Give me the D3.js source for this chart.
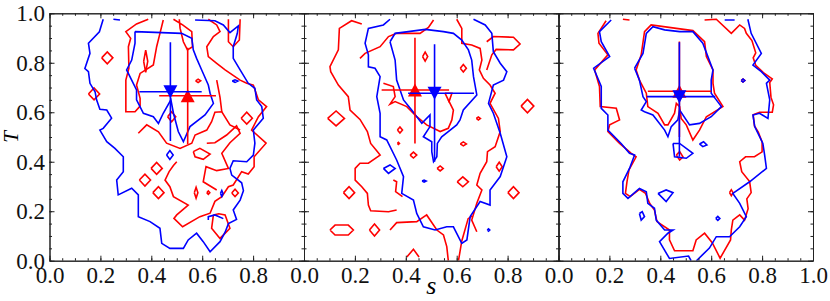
<!DOCTYPE html>
<html>
<head>
<script src="https://d3js.org/d3.v7.min.js"></script>
<style>
body { margin: 0; background: #fff; }
svg { display: block; }
.axis path, .axis line { stroke: #222; }
</style>
</head>
<body>
<script>
// contour lines, [s, T] pairs
const p1Red = [
  [[0.388,0.976],[0.342,0.957],[0.300,0.926],[0.319,0.899],[0.310,0.865],[0.312,0.778],[0.300,0.730],[0.300,0.602],[0.336,0.602],[0.356,0.625],[0.356,0.656],[0.342,0.710],[0.356,0.757],[0.408,0.791],[0.421,0.865],[0.434,0.919],[0.447,0.973]],
  [[0.349,0.515],[0.382,0.549],[0.428,0.521],[0.460,0.475],[0.513,0.454],[0.559,0.475],[0.572,0.508],[0.618,0.528],[0.637,0.562],[0.650,0.600],[0.677,0.602],[0.709,0.549],[0.749,0.528]],
  [[0.500,0.400],[0.487,0.385],[0.470,0.360],[0.454,0.326],[0.473,0.299],[0.487,0.259],[0.545,0.225],[0.500,0.185],[0.489,0.171],[0.523,0.137],[0.591,0.178],[0.631,0.192],[0.650,0.240],[0.677,0.259],[0.703,0.299],[0.722,0.306],[0.755,0.360],[0.781,0.350],[0.804,0.380],[0.804,0.420],[0.851,0.475],[0.794,0.528],[0.821,0.582],[0.853,0.623],[0.821,0.650],[0.801,0.710],[0.775,0.717],[0.749,0.730],[0.690,0.771],[0.657,0.798],[0.624,0.825],[0.618,0.865],[0.644,0.906],[0.670,0.926],[0.657,0.953],[0.624,0.976]],
  [[0.618,0.475],[0.650,0.477],[0.696,0.508],[0.735,0.545],[0.749,0.515],[0.709,0.477],[0.677,0.434],[0.703,0.373],[0.657,0.364],[0.615,0.380],[0.604,0.319],[0.657,0.286]],
  [[0.703,0.976],[0.703,0.885],[0.722,0.865],[0.746,0.892],[0.749,0.976]],
  [[0.487,0.976],[0.523,0.953],[0.559,0.926],[0.562,0.865],[0.542,0.852],[0.526,0.885],[0.513,0.940],[0.510,0.976]],
  [[0.644,0.185],[0.637,0.131],[0.670,0.090],[0.709,0.131],[0.690,0.185],[0.665,0.190],[0.644,0.185]],
  [[0.657,0.730],[0.670,0.660],[0.677,0.602]],
  [[0.565,0.441],[0.591,0.454],[0.631,0.431],[0.604,0.410],[0.572,0.420],[0.565,0.441]]
]
// small closed islands: [s, T, half width, half height]
const p1RedIslands = [
  [0.227,0.820,0.022,0.024],[0.175,0.674,0.022,0.024],[0.421,0.373,0.022,0.024],
  [0.375,0.326,0.022,0.024],[0.428,0.275,0.022,0.024],[0.576,0.275,0.007,0.022],
  [0.624,0.275,0.006,0.007],[0.729,0.274,0.013,0.015],[0.775,0.576,0.022,0.024],
  [0.584,0.727,0.010,0.007],[0.480,0.582,0.016,0.020],[0.378,0.806,0.008,0.045]
]
const p1Blue = [
  [[0.211,0.976],[0.196,0.925],[0.153,0.879],[0.159,0.838],[0.139,0.777],[0.153,0.764],[0.159,0.717],[0.179,0.683],[0.185,0.650],[0.198,0.612],[0.225,0.609],[0.244,0.576],[0.211,0.535],[0.198,0.528],[0.225,0.481],[0.257,0.454],[0.290,0.420],[0.290,0.360],[0.264,0.326],[0.270,0.266],[0.323,0.293],[0.349,0.266],[0.349,0.178],[0.395,0.158],[0.434,0.131],[0.441,0.070],[0.473,0.050],[0.526,0.050],[0.545,0.084],[0.578,0.111],[0.604,0.077],[0.631,0.036],[0.670,0.077],[0.690,0.115],[0.703,0.150],[0.735,0.167],[0.722,0.205],[0.749,0.245],[0.762,0.283],[0.755,0.315],[0.716,0.346],[0.709,0.373],[0.722,0.404],[0.775,0.400],[0.801,0.427],[0.807,0.475],[0.801,0.528],[0.840,0.576],[0.834,0.623],[0.814,0.650],[0.807,0.697],[0.781,0.717],[0.749,0.771],[0.722,0.818],[0.722,0.865],[0.738,0.919],[0.742,0.949],[0.709,0.922],[0.683,0.953],[0.650,0.970],[0.572,0.973]],
  [[0.336,0.926],[0.519,0.919],[0.559,0.899],[0.565,0.852],[0.578,0.818],[0.598,0.771],[0.624,0.710],[0.631,0.677],[0.644,0.636],[0.611,0.589],[0.552,0.542],[0.526,0.481],[0.506,0.522],[0.487,0.596],[0.477,0.650],[0.447,0.596],[0.428,0.555],[0.408,0.582],[0.369,0.596],[0.342,0.650],[0.342,0.690],[0.303,0.771],[0.323,0.811],[0.336,0.879],[0.336,0.926]],
  [[0.251,0.976],[0.277,0.973]],
  [[0.624,0.165],[0.624,0.178],[0.650,0.185],[0.683,0.170]]
]
const p1BlueIslands = [[0.473,0.427,0.013,0.018],[0.729,0.726,0.011,0.005],[0.677,0.272,0.005,0.012]]

const p2Red = [
  [[0.227,0.957],[0.187,0.970],[0.139,0.939],[0.135,0.852],[0.102,0.784],[0.105,0.764],[0.135,0.710],[0.174,0.663],[0.181,0.609],[0.220,0.571],[0.249,0.522],[0.262,0.474],[0.288,0.441],[0.299,0.427],[0.253,0.394],[0.220,0.394],[0.201,0.373],[0.201,0.326],[0.227,0.299],[0.249,0.272],[0.253,0.225],[0.262,0.202],[0.332,0.198],[0.364,0.205]],
  [[0.220,0.818],[0.240,0.838],[0.299,0.865],[0.332,0.906],[0.364,0.919],[0.410,0.919],[0.456,0.919],[0.489,0.943],[0.509,0.973]],
  [[0.312,0.717],[0.351,0.704],[0.358,0.663],[0.338,0.633],[0.358,0.643],[0.404,0.623],[0.443,0.582],[0.482,0.549],[0.535,0.522],[0.567,0.535],[0.581,0.569],[0.587,0.609],[0.567,0.650]],
  [[0.554,0.677],[0.581,0.677],[0.570,0.643],[0.554,0.677]],
  [[0.600,0.976],[0.620,0.939],[0.620,0.879],[0.659,0.872],[0.692,0.858],[0.699,0.811],[0.689,0.771],[0.705,0.737],[0.731,0.710],[0.751,0.677],[0.731,0.636],[0.764,0.575],[0.771,0.522],[0.751,0.461],[0.721,0.441],[0.718,0.400],[0.692,0.353],[0.679,0.306],[0.699,0.286],[0.679,0.232],[0.659,0.164],[0.679,0.117]],
  [[0.718,0.885],[0.744,0.906],[0.823,0.903],[0.849,0.876],[0.823,0.852],[0.755,0.854],[0.738,0.832],[0.718,0.771]],
  [[0.338,0.124],[0.364,0.154],[0.443,0.158],[0.482,0.185],[0.522,0.124],[0.548,0.104],[0.561,0.057],[0.567,0.000]],
  [[0.404,0.015],[0.430,0.046],[0.452,0.015]],
  [[0.607,0.000],[0.620,0.080],[0.645,0.170],[0.660,0.180]],
  [[0.102,0.124],[0.122,0.144],[0.174,0.144],[0.194,0.124],[0.174,0.104],[0.122,0.104],[0.102,0.124]],
  [[0.351,0.326],[0.364,0.319],[0.360,0.279],[0.387,0.259]]
]
const p2RedIslands = [
  [0.126,0.575,0.033,0.030],[0.878,0.625,0.025,0.027],[0.177,0.275,0.022,0.024],
  [0.277,0.124,0.020,0.024],[0.624,0.319,0.022,0.020],[0.823,0.275,0.022,0.024],
  [0.767,0.380,0.012,0.018],[0.535,0.373,0.012,0.010],[0.430,0.427,0.013,0.012],
  [0.476,0.825,0.010,0.018],[0.626,0.778,0.012,0.015],[0.377,0.528,0.010,0.012],
  [0.371,0.474,0.004,0.004],[0.626,0.472,0.012,0.008],[0.685,0.575,0.008,0.006]
]
const p2Blue = [
  [[0.338,0.976],[0.312,0.953],[0.253,0.939],[0.240,0.879],[0.253,0.832],[0.253,0.784],[0.279,0.778],[0.299,0.744],[0.286,0.663],[0.299,0.596],[0.299,0.501],[0.325,0.488],[0.364,0.407],[0.391,0.340],[0.384,0.272],[0.430,0.245],[0.443,0.191],[0.469,0.137],[0.515,0.124],[0.561,0.137],[0.587,0.137],[0.620,0.070],[0.640,0.084],[0.653,0.178],[0.692,0.239],[0.731,0.225],[0.731,0.286],[0.771,0.340],[0.797,0.420],[0.771,0.515],[0.744,0.596],[0.725,0.636],[0.744,0.710],[0.784,0.730],[0.797,0.764],[0.771,0.798],[0.744,0.845],[0.738,0.919],[0.712,0.953],[0.666,0.976]],
  [[0.338,0.885],[0.358,0.919],[0.410,0.926],[0.476,0.935],[0.548,0.926],[0.587,0.919],[0.620,0.892],[0.646,0.852],[0.659,0.811],[0.666,0.744],[0.679,0.670],[0.626,0.609],[0.613,0.569],[0.600,0.549],[0.567,0.522],[0.541,0.501],[0.524,0.474],[0.522,0.420],[0.509,0.400],[0.502,0.441],[0.502,0.481],[0.469,0.501],[0.495,0.542],[0.495,0.589],[0.463,0.555],[0.423,0.609],[0.391,0.650],[0.364,0.730],[0.358,0.811],[0.338,0.885]],
  [[0.312,0.373],[0.338,0.387],[0.358,0.373],[0.332,0.353],[0.312,0.373]]
]
const p2BlueIslands = [[0.472,0.322,0.008,0.004],[0.725,0.124,0.005,0.005]]

const p3Red = [
  [[0.187,0.970],[0.155,0.919],[0.159,0.879],[0.194,0.832],[0.142,0.771],[0.161,0.704],[0.164,0.623],[0.227,0.616],[0.240,0.569],[0.201,0.549],[0.194,0.522],[0.240,0.474],[0.286,0.434],[0.305,0.420],[0.277,0.367],[0.269,0.319],[0.263,0.272],[0.282,0.259],[0.318,0.288],[0.342,0.272],[0.358,0.232],[0.377,0.205],[0.387,0.158],[0.436,0.124],[0.436,0.084],[0.456,0.040],[0.528,0.040],[0.541,0.084],[0.574,0.111],[0.604,0.073],[0.635,0.010],[0.676,0.084],[0.679,0.124],[0.685,0.164],[0.712,0.185],[0.731,0.164],[0.745,0.210],[0.740,0.250],[0.757,0.275],[0.751,0.320],[0.720,0.360],[0.712,0.400],[0.735,0.420],[0.770,0.420],[0.800,0.440],[0.800,0.480],[0.785,0.520],[0.770,0.545],[0.765,0.590],[0.790,0.600],[0.840,0.600],[0.845,0.630],[0.835,0.660],[0.830,0.720],[0.840,0.735],[0.805,0.760],[0.775,0.790],[0.765,0.820],[0.775,0.840],[0.760,0.890],[0.738,0.919],[0.731,0.939],[0.712,0.953],[0.679,0.919],[0.620,0.976],[0.574,0.973]],
  [[0.305,0.771],[0.325,0.832],[0.338,0.926],[0.364,0.953],[0.463,0.939],[0.528,0.930],[0.574,0.885],[0.581,0.825],[0.607,0.771],[0.607,0.717],[0.613,0.677],[0.646,0.623],[0.581,0.582],[0.554,0.528],[0.528,0.488],[0.502,0.549],[0.482,0.575],[0.476,0.623],[0.463,0.636],[0.456,0.596],[0.430,0.549],[0.417,0.549],[0.391,0.596],[0.351,0.623],[0.345,0.677],[0.318,0.730],[0.305,0.771]],
  [[0.463,0.427],[0.476,0.441],[0.489,0.420],[0.476,0.407],[0.463,0.427]],
  [[0.253,0.976],[0.279,0.973]]
]
const p3RedIslands = [[0.725,0.728,0.007,0.006],[0.679,0.275,0.007,0.012]]
const p3Blue = [
  [[0.207,0.973],[0.161,0.926],[0.168,0.885],[0.201,0.825],[0.138,0.778],[0.168,0.704],[0.168,0.616],[0.194,0.589],[0.194,0.528],[0.246,0.474],[0.279,0.434],[0.299,0.427],[0.279,0.373],[0.253,0.319],[0.253,0.272],[0.273,0.252],[0.318,0.292],[0.345,0.279],[0.351,0.232],[0.377,0.212],[0.384,0.164],[0.417,0.124],[0.450,0.124],[0.430,0.111],[0.397,0.077],[0.436,0.009],[0.511,0.019],[0.521,0.000]],
  [[0.542,0.000],[0.593,0.051],[0.620,0.097],[0.672,0.097],[0.712,0.137],[0.738,0.178],[0.712,0.232],[0.685,0.272],[0.751,0.319],[0.817,0.373],[0.810,0.427],[0.803,0.474],[0.784,0.515],[0.771,0.542],[0.764,0.589],[0.790,0.596],[0.823,0.575],[0.830,0.650],[0.817,0.717],[0.830,0.730],[0.797,0.764],[0.764,0.791],[0.797,0.838],[0.757,0.919],[0.744,0.976]],
  [[0.299,0.778],[0.332,0.838],[0.345,0.919],[0.371,0.946],[0.417,0.933],[0.476,0.926],[0.528,0.926],[0.567,0.879],[0.587,0.825],[0.607,0.771],[0.600,0.730],[0.600,0.677],[0.620,0.650],[0.640,0.623],[0.600,0.582],[0.554,0.555],[0.515,0.549],[0.476,0.609],[0.469,0.569],[0.443,0.542],[0.430,0.501],[0.417,0.528],[0.371,0.589],[0.338,0.602],[0.325,0.609],[0.345,0.643],[0.332,0.663],[0.318,0.730],[0.299,0.778]],
  [[0.450,0.474],[0.476,0.474],[0.528,0.434],[0.502,0.414],[0.456,0.420],[0.450,0.474]],
  [[0.554,0.472],[0.570,0.481],[0.583,0.468],[0.567,0.461],[0.554,0.472]],
  [[0.391,0.272],[0.423,0.286],[0.450,0.275],[0.423,0.239],[0.391,0.272]],
  [[0.318,0.191],[0.329,0.198],[0.338,0.178],[0.325,0.164],[0.318,0.191]],
  [[0.653,0.973],[0.692,0.973]]
]
const p3BlueIslands = [[0.725,0.728,0.007,0.006],[0.626,0.171,0.008,0.008]]

// peak positions with error ranges: [s, T, sLow, sHigh, TLow, THigh]
const redPeaks = [[0.543,0.667,0.431,0.654,0.472,0.861],[0.436,0.690,0.305,0.570,0.474,0.901],[0.475,0.685,0.351,0.600,0.500,0.886]]
const bluePeaks = [[0.475,0.683,0.353,0.598,0.484,0.883],[0.513,0.677,0.409,0.668,0.400,0.875],[0.475,0.663,0.347,0.616,0.420,0.883]]

const majorTicks = [0, 0.2, 0.4, 0.6, 0.8, 1.0]
const minorTicks = d3.range(0, 1.0001, 0.05)

const W = 830, H = 301
const marginLeft = 49.5, marginTop = 13.3, pw = 254.5, ph = 247.4
const serif = 'Liberation Serif'

const svg = d3.select('body').append('svg').attr('width', W).attr('height', H)

const panels = [
  { red: p1Red, redIsl: p1RedIslands, blue: p1Blue, blueIsl: p1BlueIslands },
  { red: p2Red, redIsl: p2RedIslands, blue: p2Blue, blueIsl: p2BlueIslands },
  { red: p3Red, redIsl: p3RedIslands, blue: p3Blue, blueIsl: p3BlueIslands }
]

const island = d => [[d[0]-d[2], d[1]], [d[0], d[1]+d[3]], [d[0]+d[2], d[1]], [d[0], d[1]-d[3]], [d[0]-d[2], d[1]]]
const fmt = d3.format('.1f')

panels.forEach((p, i) => {
  const x0 = marginLeft + i * pw
  const x = d3.scaleLinear().domain([0, 1]).range([x0, x0 + pw])
  const y = d3.scaleLinear().domain([0, 1]).range([marginTop + ph, marginTop])
  const line = d3.line().x(d => x(d[0])).y(d => y(d[1]))

  svg.append('clipPath').attr('id', 'clip' + i)
    .append('rect').attr('x', x0).attr('y', marginTop).attr('width', pw).attr('height', ph)

  const g = svg.append('g').attr('clip-path', `url(#clip${i})`)

  const drawSet = (lines, isl, color) => {
    g.selectAll(null).data(lines.concat(isl.map(island))).enter()
      .append('path')
        .attr('d', line)
        .attr('fill', 'none')
        .attr('stroke', color)
        .attr('stroke-width', 1.6)
  }
  drawSet(p.red, p.redIsl, '#ff0000')
  drawSet(p.blue, p.blueIsl, '#0000ff')

  const drawPeak = (pk, color, up) => {
    g.append('line').attr('x1', x(pk[2])).attr('x2', x(pk[3])).attr('y1', y(pk[1])).attr('y2', y(pk[1]))
      .attr('stroke', color).attr('stroke-width', 1.6)
    g.append('line').attr('x1', x(pk[0])).attr('x2', x(pk[0])).attr('y1', y(pk[4])).attr('y2', y(pk[5]))
      .attr('stroke', color).attr('stroke-width', 1.6)
    const w = 14, h = 13
    const tri = up ? `M0,${-h/2}L${w/2},${h/2}L${-w/2},${h/2}Z` : `M0,${h/2}L${w/2},${-h/2}L${-w/2},${-h/2}Z`
    g.append('path').attr('d', tri)
      .attr('transform', `translate(${x(pk[0])},${y(pk[1])})`)
      .attr('fill', color)
  }
  drawPeak(redPeaks[i], '#ff0000', true)
  drawPeak(bluePeaks[i], '#0000ff', false)

  // axes, ticks pointing inward on all four sides
  const addAxis = (axis, tr) => svg.append('g').attr('class', 'axis').attr('transform', tr).call(axis)
    .attr('font-family', serif).attr('font-size', 23)
  addAxis(d3.axisBottom(x).tickValues(majorTicks).tickSizeInner(-5).tickSizeOuter(0).tickPadding(5.5)
    .tickFormat(d => (d === 1 && i < 2) ? '' : fmt(d)), `translate(0,${marginTop + ph})`)
  addAxis(d3.axisBottom(x).tickValues(minorTicks).tickSizeInner(-2.5).tickSizeOuter(0).tickFormat(''), `translate(0,${marginTop + ph})`)
  addAxis(d3.axisTop(x).tickValues(majorTicks).tickSizeInner(-5).tickSizeOuter(0).tickFormat(''), `translate(0,${marginTop})`)
  addAxis(d3.axisTop(x).tickValues(minorTicks).tickSizeInner(-2.5).tickSizeOuter(0).tickFormat(''), `translate(0,${marginTop})`)
  addAxis(d3.axisLeft(y).tickValues(majorTicks).tickSizeInner(-5).tickSizeOuter(0).tickPadding(4.5)
    .tickFormat(d => i === 0 ? fmt(d) : ''), `translate(${x0},0)`)
  addAxis(d3.axisLeft(y).tickValues(minorTicks).tickSizeInner(-2.5).tickSizeOuter(0).tickFormat(''), `translate(${x0},0)`)
  addAxis(d3.axisRight(y).tickValues(majorTicks).tickSizeInner(-5).tickSizeOuter(0).tickFormat(''), `translate(${x0 + pw},0)`)
  addAxis(d3.axisRight(y).tickValues(minorTicks).tickSizeInner(-2.5).tickSizeOuter(0).tickFormat(''), `translate(${x0 + pw},0)`)
})

svg.selectAll('.axis text')
  .attr('font-family', serif)
  .attr('font-size', 23)
  .attr('fill', '#111')

svg.append('text')
  .attr('transform', `translate(18,${marginTop + ph / 2}) rotate(-90)`)
  .attr('text-anchor', 'middle')
  .attr('font-family', serif).attr('font-style', 'italic').attr('font-size', 21)
  .text('T')

svg.append('text')
  .attr('x', marginLeft + pw * 1.5).attr('y', 294)
  .attr('text-anchor', 'middle')
  .attr('font-family', serif).attr('font-style', 'italic').attr('font-size', 26)
  .text('s')
</script>
</body>
</html>
